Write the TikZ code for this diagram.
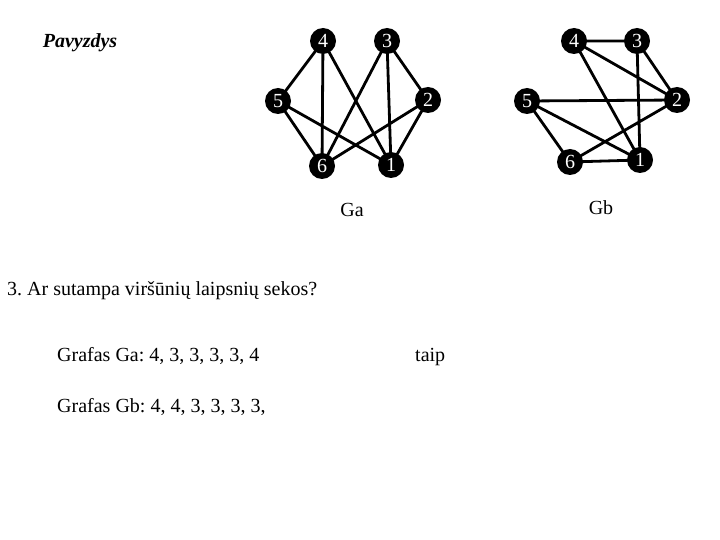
\documentclass[tikz,border=0pt]{standalone}
\usepackage{fontspec}
\setmainfont{Liberation Serif}
\usetikzlibrary{backgrounds}
\begin{document}
\frenchspacing
\begin{tikzpicture}[x=1pt,y=-1pt,
  vtx/.style={circle,fill=black,inner sep=0pt,minimum size=26pt,text=white,font=\fontsize{20}{20}\selectfont},
  edge/.style={line width=2.8pt},
  txt/.style={anchor=base west,inner sep=0pt,font=\fontsize{20}{24}\selectfont}]
\useasboundingbox (0,0) rectangle (720,540);
% Graph Ga
\node[vtx] (a4) at (323,41) {4};
\node[vtx] (a3) at (387,41) {3};
\node[vtx] (a5) at (278,101) {5};
\node[vtx] (a2) at (428,100) {2};
\node[vtx] (a6) at (322,166) {6};
\node[vtx] (a1) at (391,165) {1};
% Graph Gb
\node[vtx] (b4) at (574,41) {4};
\node[vtx] (b3) at (637,41) {3};
\node[vtx] (b5) at (527,101) {5};
\node[vtx] (b2) at (677,100) {2};
\node[vtx] (b6) at (570,162) {6};
\node[vtx] (b1) at (640,160) {1};
\begin{pgfonlayer}{background}
\draw[edge] (a4.center)--(a5.center) (a4.center)--(a6.center) (a4.center)--(a1.center)
  (a3.center)--(a6.center) (a3.center)--(a1.center) (a3.center)--(a2.center)
  (a5.center)--(a6.center) (a5.center)--(a1.center) (a2.center)--(a6.center) (a2.center)--(a1.center);
\draw[edge] (b4.center)--(b3.center) (b4.center)--(b2.center) (b4.center)--(b1.center)
  (b3.center)--(b1.center) (b3.center)--(b2.center)
  (b5.center)--(b2.center) (b5.center)--(b1.center) (b5.center)--(b6.center)
  (b6.center)--(b1.center) (b6.center)--(b2.center);
\end{pgfonlayer}
% labels
\node[font=\fontsize{20}{20}\selectfont\bfseries\itshape] (pav) at (80,43) {Pavyzdys};
\node[font=\fontsize{20}{20}\selectfont] (ga) at (352,210) {Ga};
\node[font=\fontsize{20}{20}\selectfont] (gb) at (601,208) {Gb};
\node[txt] (q) at (7,295) {3. Ar sutampa viršūnių laipsnių sekos?};
\node[txt] (ta) at (57,361) {Grafas Ga: 4, 3, 3, 3, 3, 4};
\node[txt] (taip) at (415,361) {taip};
\node[txt] (tb) at (57,412) {Grafas Gb: 4, 4, 3, 3, 3, 3,};
\end{tikzpicture}
\end{document}
